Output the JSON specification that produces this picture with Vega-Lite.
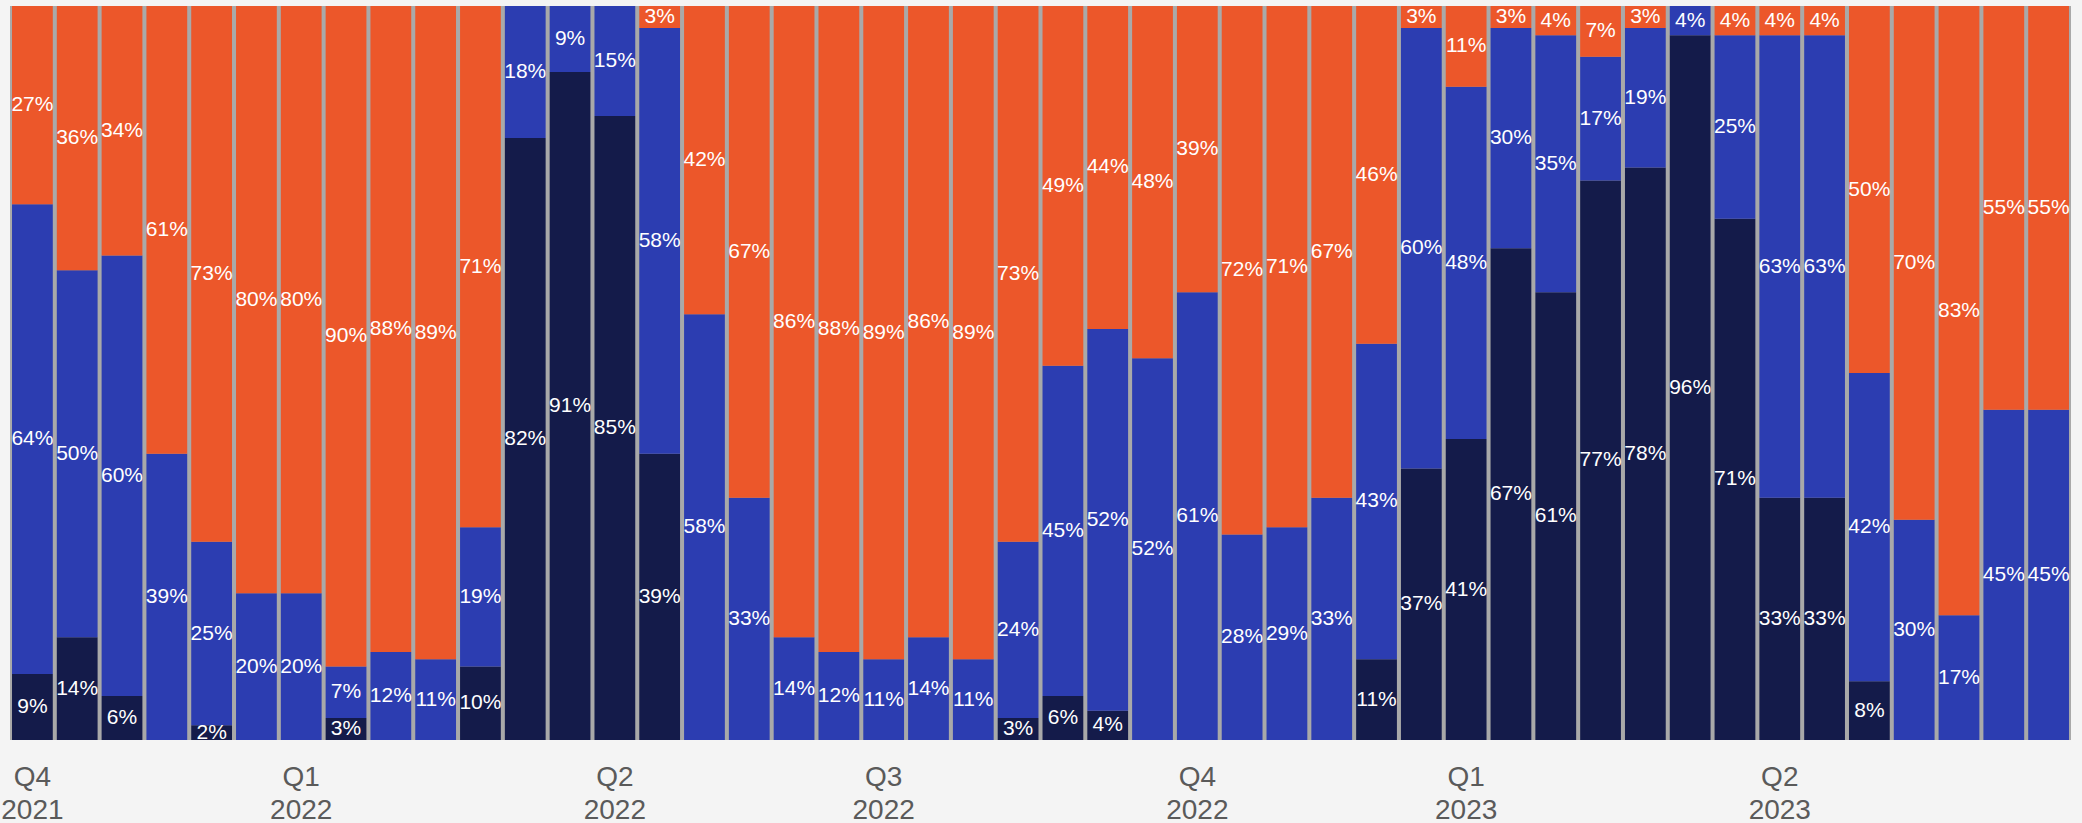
{
  "$schema": "https://vega.github.io/schema/vega-lite/v6.json",
  "width": 2061,
  "height": 734,
  "autosize": {"type": "none"},
  "padding": {"left": 10, "right": 11, "top": 6, "bottom": 83},
  "background": "#f4f4f4",
  "config": {
    "view": {"stroke": null, "fill": "#a9a9a9"},
    "font": "Liberation Sans"
  },
  "data": {
    "values": [
      {"p": "Q4 2021", "s1": 0.09, "s2": 0.64, "s3": 0.27},
      {"p": "Q4 2021 #2", "s1": 0.14, "s2": 0.50, "s3": 0.36},
      {"p": "Q4 2021 #3", "s1": 0.06, "s2": 0.60, "s3": 0.34},
      {"p": "Q4 2021 #4", "s1": 0, "s2": 0.39, "s3": 0.61},
      {"p": "Q4 2021 #5", "s1": 0.02, "s2": 0.25, "s3": 0.73},
      {"p": "Q4 2021 #6", "s1": 0, "s2": 0.20, "s3": 0.80},
      {"p": "Q1 2022", "s1": 0, "s2": 0.20, "s3": 0.80},
      {"p": "Q1 2022 #2", "s1": 0.03, "s2": 0.07, "s3": 0.90},
      {"p": "Q1 2022 #3", "s1": 0, "s2": 0.12, "s3": 0.88},
      {"p": "Q1 2022 #4", "s1": 0, "s2": 0.11, "s3": 0.89},
      {"p": "Q1 2022 #5", "s1": 0.10, "s2": 0.19, "s3": 0.71},
      {"p": "Q1 2022 #6", "s1": 0.82, "s2": 0.18, "s3": 0},
      {"p": "Q1 2022 #7", "s1": 0.91, "s2": 0.09, "s3": 0},
      {"p": "Q2 2022", "s1": 0.85, "s2": 0.15, "s3": 0},
      {"p": "Q2 2022 #2", "s1": 0.39, "s2": 0.58, "s3": 0.03},
      {"p": "Q2 2022 #3", "s1": 0, "s2": 0.58, "s3": 0.42},
      {"p": "Q2 2022 #4", "s1": 0, "s2": 0.33, "s3": 0.67},
      {"p": "Q2 2022 #5", "s1": 0, "s2": 0.14, "s3": 0.86},
      {"p": "Q2 2022 #6", "s1": 0, "s2": 0.12, "s3": 0.88},
      {"p": "Q3 2022", "s1": 0, "s2": 0.11, "s3": 0.89},
      {"p": "Q3 2022 #2", "s1": 0, "s2": 0.14, "s3": 0.86},
      {"p": "Q3 2022 #3", "s1": 0, "s2": 0.11, "s3": 0.89},
      {"p": "Q3 2022 #4", "s1": 0.03, "s2": 0.24, "s3": 0.73},
      {"p": "Q3 2022 #5", "s1": 0.06, "s2": 0.45, "s3": 0.49},
      {"p": "Q3 2022 #6", "s1": 0.04, "s2": 0.52, "s3": 0.44},
      {"p": "Q3 2022 #7", "s1": 0, "s2": 0.52, "s3": 0.48},
      {"p": "Q4 2022", "s1": 0, "s2": 0.61, "s3": 0.39},
      {"p": "Q4 2022 #2", "s1": 0, "s2": 0.28, "s3": 0.72},
      {"p": "Q4 2022 #3", "s1": 0, "s2": 0.29, "s3": 0.71},
      {"p": "Q4 2022 #4", "s1": 0, "s2": 0.33, "s3": 0.67},
      {"p": "Q4 2022 #5", "s1": 0.11, "s2": 0.43, "s3": 0.46},
      {"p": "Q4 2022 #6", "s1": 0.37, "s2": 0.60, "s3": 0.03},
      {"p": "Q1 2023", "s1": 0.41, "s2": 0.48, "s3": 0.11},
      {"p": "Q1 2023 #2", "s1": 0.67, "s2": 0.30, "s3": 0.03},
      {"p": "Q1 2023 #3", "s1": 0.61, "s2": 0.35, "s3": 0.04},
      {"p": "Q1 2023 #4", "s1": 0.77, "s2": 0.17, "s3": 0.07},
      {"p": "Q1 2023 #5", "s1": 0.78, "s2": 0.19, "s3": 0.03},
      {"p": "Q1 2023 #6", "s1": 0.96, "s2": 0.04, "s3": 0},
      {"p": "Q1 2023 #7", "s1": 0.71, "s2": 0.25, "s3": 0.04},
      {"p": "Q2 2023", "s1": 0.33, "s2": 0.63, "s3": 0.04},
      {"p": "Q2 2023 #2", "s1": 0.33, "s2": 0.63, "s3": 0.04},
      {"p": "Q2 2023 #3", "s1": 0.08, "s2": 0.42, "s3": 0.50},
      {"p": "Q2 2023 #4", "s1": 0, "s2": 0.30, "s3": 0.70},
      {"p": "Q2 2023 #5", "s1": 0, "s2": 0.17, "s3": 0.83},
      {"p": "Q2 2023 #6", "s1": 0, "s2": 0.45, "s3": 0.55},
      {"p": "Q2 2023 #7", "s1": 0, "s2": 0.45, "s3": 0.55}
    ]
  },
  "transform": [{"fold": ["s1", "s2", "s3"], "as": ["k", "v"]}],
  "encoding": {
    "x": {
      "field": "p",
      "type": "ordinal",
      "sort": null,
      "scale": {"paddingInner": 0, "paddingOuter": 0},
      "axis": {
        "title": null,
        "ticks": false,
        "domain": false,
        "labelAngle": 0,
        "labelFontSize": 28,
        "labelColor": "#5a5a5a",
        "labelFont": "Liberation Sans",
        "labelLineHeight": 33,
        "labelPadding": 23,
        "labelOverlap": false,
        "labelExpr": "indexof(datum.value, '#') < 0 ? split(datum.value, ' ') : ''"
      }
    },
    "y": {
      "field": "v",
      "type": "quantitative",
      "stack": "normalize",
      "scale": {"domain": [0, 1]},
      "axis": null
    },
    "color": {
      "field": "k",
      "type": "nominal",
      "scale": {"domain": ["s1", "s2", "s3"], "range": ["#141b4a", "#2c3db1", "#ec572a"]},
      "legend": null
    },
    "order": {"field": "k", "sort": "ascending"}
  },
  "layer": [
    {"mark": {"type": "bar", "width": {"band": 0.91}}},
    {
      "transform": [{"filter": "datum.v > 0"}],
      "mark": {"type": "text", "color": "white", "fontSize": 21, "font": "Liberation Sans", "baseline": "middle", "align": "center"},
      "encoding": {
        "y": {"field": "v", "type": "quantitative", "stack": "normalize", "bandPosition": 0.5},
        "text": {"field": "v", "type": "quantitative", "format": ".0%"},
        "color": {"value": "white"}
      }
    }
  ]
}
